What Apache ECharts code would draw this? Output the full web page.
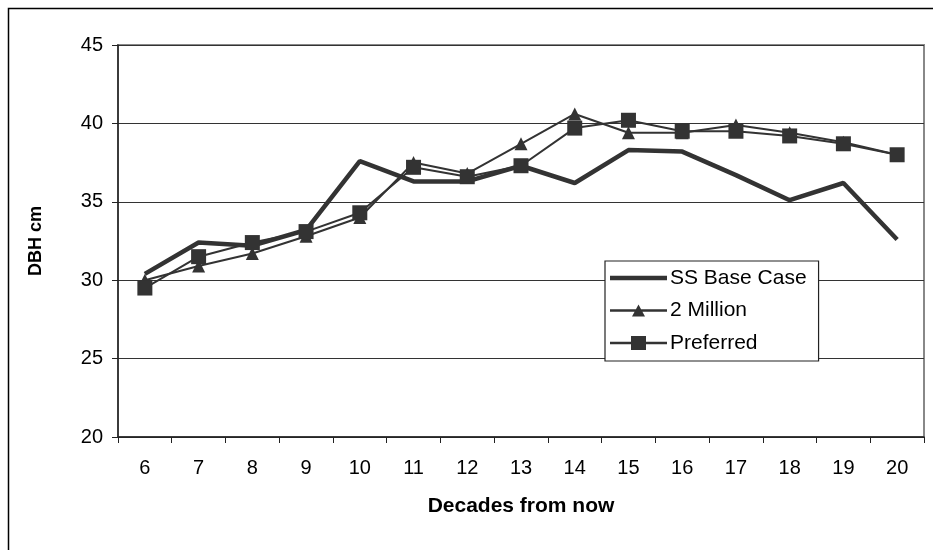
<!DOCTYPE html>
<html>
<head>
<meta charset="utf-8">
<script src="https://cdn.jsdelivr.net/npm/echarts@6/dist/echarts.min.js"></script>
<style>html,body{margin:0;padding:0;background:#fff;}#c{width:933px;height:550px;}</style>
</head>
<body>
<div id="c"></div>
<script>
const categories = ['6','7','8','9','10','11','12','13','14','15','16','17','18','19','20'];
const ssBaseCase = [30.4, 32.4, 32.2, 33.2, 37.6, 36.3, 36.3, 37.3, 36.2, 38.3, 38.2, 36.7, 35.1, 36.2, 32.6];
const twoMillion = [30.0, 30.9, 31.7, 32.8, 34.0, 37.5, 36.8, 38.7, 40.6, 39.4, 39.4, 39.9, 39.4, 38.8, 38.0];
const preferred = [29.5, 31.5, 32.4, 33.1, 34.3, 37.2, 36.6, 37.3, 39.7, 40.2, 39.5, 39.5, 39.2, 38.7, 38.0];
const yTicks = { min: 20, max: 45, interval: 5 };

const chart = echarts.init(document.getElementById('c'), null, { renderer: 'canvas' });
const font = 'Liberation Sans, Arial, sans-serif';
chart.setOption({
  animation: false,
  backgroundColor: '#fff',
  graphic: [{
    type: 'rect', left: 6, top: 6, z: -10,
    shape: { x: 0, y: 0, width: 960, height: 580 },
    style: { fill: 'none', stroke: '#000', lineWidth: 1.5 }
  }],
  grid: { left: 118, right: 9, top: 45, bottom: 113, show: true, borderColor: '#888', borderWidth: 2, backgroundColor: 'transparent' },
  legend: {
    orient: 'vertical', left: 605, top: 261,
    backgroundColor: '#fff', borderColor: '#222', borderWidth: 1.2,
    padding: [6, 12, 7, 5],
    itemWidth: 57, itemHeight: 16, itemGap: 10.5,
    textStyle: { fontFamily: font, fontSize: 21, lineHeight: 22, color: '#000', padding: [0, 0, 0, -2] },
    data: [
      { name: 'SS Base Case', icon: 'path://M0,6H57V10.5H0Z' },
      { name: '2 Million', icon: 'path://M0,6.8H57V9.2H0Z M28.5,2L35,14H22Z' },
      { name: 'Preferred', icon: 'path://M0,6.8H57V9.2H0Z M21,1H36V15H21Z' }
    ]
  },
  xAxis: {
    type: 'category', data: categories, boundaryGap: true,
    name: 'Decades from now', nameLocation: 'middle', nameGap: 59,
    nameTextStyle: { fontFamily: font, fontSize: 21, fontWeight: 'bold', color: '#000' },
    axisLine: { lineStyle: { color: '#222', width: 1.5 } },
    axisTick: { show: true, length: 6, alignWithLabel: false, lineStyle: { color: '#222' } },
    axisLabel: { fontFamily: font, fontSize: 20, color: '#000', margin: 21 },
    splitLine: { show: false }
  },
  yAxis: {
    type: 'value', min: yTicks.min, max: yTicks.max, interval: yTicks.interval,
    name: 'DBH cm', nameLocation: 'middle', nameGap: 73, nameRotate: 90,
    nameTextStyle: { fontFamily: font, fontSize: 18, fontWeight: 'bold', color: '#000' },
    axisLine: { show: true, lineStyle: { color: '#222', width: 1.5 } },
    axisTick: { show: true, length: 6, lineStyle: { color: '#222' } },
    axisLabel: { fontFamily: font, fontSize: 20, color: '#000', margin: 15 },
    splitLine: { show: true, lineStyle: { color: '#333', width: 1 } }
  },
  series: [
    {
      name: 'SS Base Case', type: 'line', data: ssBaseCase,
      symbol: 'none', lineStyle: { color: '#333', width: 4.5 }, itemStyle: { color: '#333' }, z: 2
    },
    {
      name: '2 Million', type: 'line', data: twoMillion,
      symbol: 'triangle', symbolSize: 13, showAllSymbol: true,
      lineStyle: { color: '#333', width: 2 }, itemStyle: { color: '#333' }, z: 3
    },
    {
      name: 'Preferred', type: 'line', data: preferred,
      symbol: 'rect', symbolSize: 15, showAllSymbol: true,
      lineStyle: { color: '#333', width: 2 }, itemStyle: { color: '#333' }, z: 4
    }
  ]
});
</script>
</body>
</html>
